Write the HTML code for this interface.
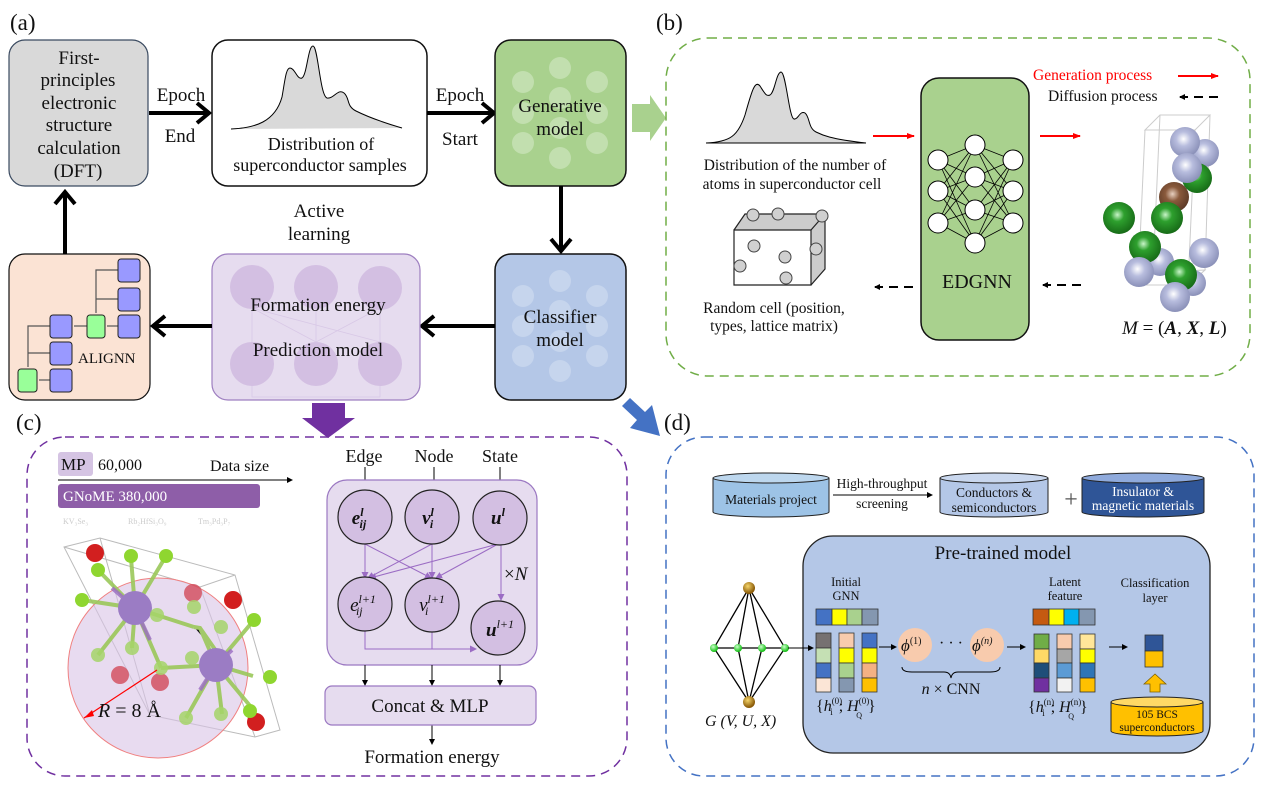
<!DOCTYPE html>
<html><head><meta charset="utf-8"><style>
html,body{margin:0;padding:0;background:#fff}
svg{display:block}
text{font-family:"Liberation Serif","DejaVu Serif",serif;fill:#111}
</style></head><body>
<svg width="1274" height="786" viewBox="0 0 1274 786" xmlns="http://www.w3.org/2000/svg">
<defs>
<marker id="ahs" markerWidth="6" markerHeight="6" refX="5" refY="3" orient="auto" markerUnits="userSpaceOnUse"><path d="M0,0 L6,3 L0,6 z" fill="#000"/></marker>
<marker id="ahr" markerWidth="8" markerHeight="8" refX="7" refY="4" orient="auto" markerUnits="userSpaceOnUse"><path d="M0,1 L8,4 L0,7 z" fill="#f00"/></marker>
<marker id="ahp" markerWidth="7" markerHeight="7" refX="6" refY="3.5" orient="auto" markerUnits="userSpaceOnUse"><path d="M0,0 L7,3.5 L0,7 z" fill="#9b6cc4"/></marker>
<radialGradient id="gs" cx="0.45" cy="0.4" r="0.6"><stop offset="0" stop-color="#fff"/><stop offset="0.4" stop-color="#b8bdde"/><stop offset="1" stop-color="#8a90b8"/></radialGradient>
<radialGradient id="gg" cx="0.45" cy="0.4" r="0.6"><stop offset="0" stop-color="#c8f5c8"/><stop offset="0.35" stop-color="#2ea02e"/><stop offset="1" stop-color="#176b17"/></radialGradient>
<radialGradient id="gb" cx="0.45" cy="0.4" r="0.6"><stop offset="0" stop-color="#e8d0c0"/><stop offset="0.4" stop-color="#8a5a3c"/><stop offset="1" stop-color="#5c3a26"/></radialGradient>
<radialGradient id="gau" cx="0.4" cy="0.35" r="0.6"><stop offset="0" stop-color="#f5d56a"/><stop offset="1" stop-color="#8a5a08"/></radialGradient>
<radialGradient id="gn" cx="0.4" cy="0.35" r="0.6"><stop offset="0" stop-color="#c9ffc9"/><stop offset="1" stop-color="#17c017"/></radialGradient>
</defs>

<!-- ===== Panel (a) ===== -->
<text x="10" y="30" font-size="23">(a)</text>
<rect x="9" y="40" width="139" height="146" rx="16" fill="#d9d9d9" stroke="#3a4a60" stroke-width="1.2"/>
<g font-size="19" text-anchor="middle">
<text x="79" y="64">First-</text><text x="78" y="86">principles</text><text x="79" y="109">electronic</text>
<text x="79" y="131">structure</text><text x="79" y="154">calculation</text><text x="78" y="177">(DFT)</text>
</g>
<line x1="149" y1="113" x2="207" y2="113" stroke="#000" stroke-width="4"/>
<path d="M197,103 L209,113 L197,123" fill="none" stroke="#000" stroke-width="4"/>
<text x="181" y="101" font-size="19" text-anchor="middle">Epoch</text>
<text x="180" y="142" font-size="19" text-anchor="middle">End</text>

<rect x="212" y="40" width="215" height="146" rx="16" fill="#fff" stroke="#111" stroke-width="1.5"/>
<path d="M231,129 C255,128 275,122 282,97 C285,80 286,68 290,68 C295,68 297,80 302,78 C307,75 308,46 313,46 C318,46 320,96 327,98 C334,99 338,88 344,93 C350,98 346,106 356,111 C370,118 385,123 402,128 Z" fill="#d9d9d9" stroke="none"/>
<path d="M231,129 C255,128 275,122 282,97 C285,80 286,68 290,68 C295,68 297,80 302,78 C307,75 308,46 313,46 C318,46 320,96 327,98 C334,99 338,88 344,93 C350,98 346,106 356,111 C370,118 385,123 402,128" fill="none" stroke="#000" stroke-width="1"/>
<g font-size="18" text-anchor="middle"><text x="321" y="150">Distribution of</text><text x="320" y="171">superconductor samples</text></g>

<line x1="427" y1="113" x2="492" y2="113" stroke="#000" stroke-width="4"/>
<path d="M482,103 L494,113 L482,123" fill="none" stroke="#000" stroke-width="4"/>
<text x="460" y="101" font-size="19" text-anchor="middle">Epoch</text>
<text x="460" y="145" font-size="19" text-anchor="middle">Start</text>

<rect x="495" y="40" width="131" height="146" rx="16" fill="#a9d18e" stroke="#111" stroke-width="1.5"/>
<g fill="#c5e1b3" opacity="0.9">
<circle cx="523" cy="82" r="11"/><circle cx="523" cy="113" r="11"/><circle cx="523" cy="143" r="11"/>
<circle cx="560" cy="68" r="11"/><circle cx="560" cy="98" r="11"/><circle cx="560" cy="128" r="11"/><circle cx="560" cy="158" r="11"/>
<circle cx="597" cy="82" r="11"/><circle cx="597" cy="113" r="11"/><circle cx="597" cy="143" r="11"/></g>
<g font-size="19" text-anchor="middle"><text x="560" y="112">Generative</text><text x="560" y="135">model</text></g>

<line x1="561" y1="186" x2="561" y2="248" stroke="#000" stroke-width="4"/>
<path d="M551,239 L561,251 L571,239" fill="none" stroke="#000" stroke-width="4"/>

<rect x="495" y="254" width="131" height="146" rx="16" fill="#b4c7e7" stroke="#111" stroke-width="1.5"/>
<g fill="#c9d7ee" opacity="0.9">
<circle cx="523" cy="296" r="11"/><circle cx="523" cy="326" r="11"/><circle cx="523" cy="356" r="11"/>
<circle cx="560" cy="281" r="11"/><circle cx="560" cy="311" r="11"/><circle cx="560" cy="341" r="11"/><circle cx="560" cy="371" r="11"/>
<circle cx="597" cy="296" r="11"/><circle cx="597" cy="326" r="11"/><circle cx="597" cy="356" r="11"/></g>
<g font-size="19" text-anchor="middle"><text x="560" y="323">Classifier</text><text x="560" y="346">model</text></g>

<line x1="495" y1="326" x2="424" y2="326" stroke="#000" stroke-width="4"/>
<path d="M434,316 L422,326 L434,336" fill="none" stroke="#000" stroke-width="4"/>

<rect x="212" y="254" width="208" height="146" rx="16" fill="#e6dcef" stroke="#9e7fc0" stroke-width="1.2"/>
<g fill="#d3bfe2"><ellipse cx="252" cy="287" rx="22" ry="22"/><ellipse cx="316" cy="287" rx="22" ry="22"/><ellipse cx="380" cy="288" rx="22" ry="22"/>
<ellipse cx="252" cy="364" rx="22" ry="22"/><ellipse cx="316" cy="364" rx="22" ry="22"/><ellipse cx="380" cy="364" rx="22" ry="22"/></g>
<g stroke="#d8c8e6" stroke-width="0.8" fill="none"><path d="M252,308 L316,342 M380,308 L316,342 M252,308 L380,342 M252,308 V342 M316,308 V342 M380,308 V342 M252,386 V397 H380 V386"/></g>
<g font-size="19" text-anchor="middle"><text x="318" y="311">Formation energy</text><text x="318" y="356">Prediction model</text></g>

<rect x="9" y="254" width="141" height="146" rx="16" fill="#fbe3d4" stroke="#111" stroke-width="1.2"/>
<line x1="212" y1="326" x2="155" y2="326" stroke="#000" stroke-width="4"/>
<path d="M165,316 L153,326 L165,336" fill="none" stroke="#000" stroke-width="4"/>
<g stroke="#555" stroke-width="1.2" fill="none">
<path d="M118,270 H96 V313"/><path d="M118,299 H96"/><path d="M118,326 H107"/><path d="M87,326 H74"/>
<path d="M50,326 H28 V367"/><path d="M50,353 H28"/><path d="M50,380 H39"/>
</g>
<g fill="#9999ff" stroke="#222" stroke-width="1">
<rect x="118" y="259" width="22" height="23" rx="3"/><rect x="118" y="288" width="22" height="23" rx="3"/><rect x="118" y="315" width="22" height="23" rx="3"/>
<rect x="50" y="315" width="22" height="23" rx="3"/><rect x="50" y="342" width="22" height="23" rx="3"/><rect x="50" y="369" width="22" height="23" rx="3"/>
</g>
<g fill="#99ff99" stroke="#222" stroke-width="1"><rect x="87" y="315" width="18" height="23" rx="3"/><rect x="18" y="369" width="19" height="23" rx="3"/></g>
<text x="78" y="363" font-size="15">ALIGNN</text>

<line x1="65" y1="254" x2="65" y2="195" stroke="#000" stroke-width="4"/>
<path d="M55,204 L65,192 L75,204" fill="none" stroke="#000" stroke-width="4"/>
<g font-size="19" text-anchor="middle"><text x="319" y="217">Active</text><text x="319" y="240">learning</text></g>

<!-- ===== Panel (b) ===== -->
<text x="656" y="30" font-size="23">(b)</text>
<path d="M632,104 H650 V95 L666,118 L650,141 V132 H632 Z" fill="#a9d18e"/>
<rect x="666" y="38" width="584" height="338" rx="42" fill="none" stroke="#70ad47" stroke-width="1.5" stroke-dasharray="9,6"/>
<path d="M706,143 C730,142 738,136 745,115 C752,90 755,80 760,86 C764,92 766,97 770,95 C775,92 776,73 781,72 C786,72 789,118 794,119 C798,120 800,110 805,113 C810,117 808,128 816,132 C822,135 830,139 866,143 Z" fill="#d9d9d9" stroke="#000" stroke-width="1"/>
<g font-size="15.5" text-anchor="middle"><text x="795" y="170">Distribution of the number of</text><text x="792" y="189">atoms in superconductor cell</text></g>
<line x1="873" y1="136" x2="914" y2="136" stroke="#f00" stroke-width="2" marker-end="url(#ahr)"/>
<line x1="1040" y1="136" x2="1080" y2="136" stroke="#f00" stroke-width="2" marker-end="url(#ahr)"/>
<text x="1033" y="80" font-size="15.5" style="fill:#f00">Generation process</text>
<line x1="1178" y1="76" x2="1218" y2="76" stroke="#f00" stroke-width="2" marker-end="url(#ahr)"/>
<text x="1048" y="101" font-size="15.5">Diffusion process</text>
<line x1="1218" y1="97" x2="1180" y2="97" stroke="#000" stroke-width="2" stroke-dasharray="9,6" marker-end="url(#ahs)"/>

<rect x="921" y="78" width="108" height="262" rx="18" fill="#a9d18e" stroke="#111" stroke-width="1.5"/>
<g stroke="#000" stroke-width="0.8">
<path d="M938,160 L975,145 M938,160 L975,177 M938,160 L975,210 M938,160 L975,243 M938,191 L975,145 M938,191 L975,177 M938,191 L975,210 M938,191 L975,243 M938,223 L975,145 M938,223 L975,177 M938,223 L975,210 M938,223 L975,243"/>
<path d="M1013,160 L975,145 M1013,160 L975,177 M1013,160 L975,210 M1013,160 L975,243 M1013,191 L975,145 M1013,191 L975,177 M1013,191 L975,210 M1013,191 L975,243 M1013,223 L975,145 M1013,223 L975,177 M1013,223 L975,210 M1013,223 L975,243"/>
</g>
<g fill="#fff" stroke="#000" stroke-width="1">
<circle cx="938" cy="160" r="10"/><circle cx="938" cy="191" r="10"/><circle cx="938" cy="223" r="10"/>
<circle cx="975" cy="145" r="10"/><circle cx="975" cy="177" r="10"/><circle cx="975" cy="210" r="10"/><circle cx="975" cy="243" r="10"/>
<circle cx="1013" cy="160" r="10"/><circle cx="1013" cy="191" r="10"/><circle cx="1013" cy="223" r="10"/></g>
<text x="977" y="288" font-size="20" text-anchor="middle">EDGNN</text>
<line x1="913" y1="287" x2="875" y2="287" stroke="#000" stroke-width="2" stroke-dasharray="9,6" marker-end="url(#ahs)"/>
<line x1="1081" y1="285" x2="1043" y2="285" stroke="#000" stroke-width="2" stroke-dasharray="9,6" marker-end="url(#ahs)"/>

<path d="M734,230 L745,214 L825,214 L825,269 L811,285 Z" fill="#ccc"/>
<path d="M734,230 L811,230 L811,285 L734,285 Z" fill="#fff" stroke="#222" stroke-width="1.2"/>
<path d="M734,230 L745,214 L825,214 L811,230 M825,214 L825,269 L811,285" fill="none" stroke="#222" stroke-width="1.2"/>
<g fill="#d0d0d0" stroke="#444" stroke-width="1">
<circle cx="753" cy="215" r="6"/><circle cx="778" cy="214" r="6"/><circle cx="822" cy="216" r="6"/><circle cx="754" cy="246" r="6"/>
<circle cx="785" cy="257" r="6"/><circle cx="740" cy="266" r="6"/><circle cx="786" cy="278" r="6"/><circle cx="816" cy="249" r="6"/></g>
<g font-size="15.5" text-anchor="middle"><text x="774" y="313">Random cell (position,</text><text x="774" y="331">types,  lattice matrix)</text></g>

<g fill="none" stroke="#ccc" stroke-width="1">
<path d="M1145,130 L1160,115 L1210,115 L1195,130 Z M1145,130 L1138,285 M1195,130 L1188,285 M1210,115 L1205,270 M1160,115 L1153,272 M1138,285 L1188,285 L1205,270 L1153,272 Z"/></g>
<circle cx="1205" cy="153" r="14" fill="url(#gs)"/>
<circle cx="1185" cy="142" r="15" fill="url(#gs)"/>
<circle cx="1197" cy="178" r="15" fill="url(#gg)"/>
<circle cx="1187" cy="168" r="15" fill="url(#gs)"/>
<circle cx="1174" cy="197" r="15" fill="url(#gb)"/>
<circle cx="1119" cy="218" r="16" fill="url(#gg)"/>
<circle cx="1167" cy="218" r="16" fill="url(#gg)"/>
<circle cx="1160" cy="262" r="14" fill="url(#gs)"/>
<circle cx="1145" cy="247" r="16" fill="url(#gg)"/>
<circle cx="1139" cy="272" r="15" fill="url(#gs)"/>
<circle cx="1204" cy="253" r="15" fill="url(#gs)"/>
<circle cx="1193" cy="283" r="13" fill="url(#gs)"/>
<circle cx="1181" cy="275" r="16" fill="url(#gg)"/>
<circle cx="1175" cy="297" r="15" fill="url(#gs)"/>
<text x="1122" y="334" font-size="19"><tspan font-style="italic">M</tspan> = (<tspan font-weight="bold" font-style="italic">A</tspan>, <tspan font-weight="bold" font-style="italic">X</tspan>, <tspan font-weight="bold" font-style="italic">L</tspan>)</text>

<!-- ===== Panel (c) ===== -->
<text x="16" y="430" font-size="23">(c)</text>
<path d="M312,403 H345 V418 H355 L328,438 L302,418 H312 Z" fill="#7030a0"/>
<rect x="27" y="437" width="600" height="339" rx="38" fill="none" stroke="#7030a0" stroke-width="1.5" stroke-dasharray="9,6"/>
<rect x="58" y="452" width="35" height="24" rx="3" fill="#d5c4e3"/>
<text x="61" y="470" font-size="17">MP</text>
<text x="98" y="470" font-size="16">60,000</text>
<text x="210" y="471" font-size="16">Data size</text>
<line x1="58" y1="480" x2="292" y2="480" stroke="#000" stroke-width="1" marker-end="url(#ahs)"/>
<rect x="58" y="484" width="202" height="24" rx="3" fill="#8e5ea8"/>
<text x="63" y="501" font-size="15" style="fill:#fff">GNoME  380,000</text>
<g font-size="8" font-family="Liberation Sans"><text x="63" y="524" style="fill:#ccc">KV₃Se₃</text><text x="128" y="524" style="fill:#ccc">Rb₂HfSi₃O₉</text><text x="198" y="524" style="fill:#ccc">Tm₃Pd₃P₇</text></g>

<g fill="none" stroke="#bbb" stroke-width="1"><path d="M64,547 L100,538 L235,575 L280,730 L255,737 L150,715 L64,547 Z M100,538 L150,715 M235,575 L200,587 L64,547 M200,587 L255,737"/></g>
<circle cx="158" cy="668" r="90" fill="#d9c3e6" fill-opacity="0.6" stroke="#f08080" stroke-width="1"/>
<g stroke="#9bc85a" stroke-width="4" opacity="0.9">
<path d="M135,608 L82,600 M135,608 L98,570 M135,608 L131,558 M135,608 L166,556 M135,608 L98,655 M135,608 L132,648 M135,608 L194,627 M135,608 L161,668 M161,668 L216,665 M216,665 L254,620 M216,665 L253,676 M216,665 L222,714 M216,665 L186,718 M216,665 L251,707 M216,665 L200,628 M194,627 L200,628 L221,658"/></g>
<g stroke="#9b6cc4" stroke-width="4" opacity="0.8"><path d="M135,608 L112,588 M135,608 L150,640 M216,665 L232,650 M216,665 L200,690"/></g>
<circle cx="135" cy="608" r="17" fill="#9b7cc4"/><circle cx="216" cy="665" r="17" fill="#9b7cc4"/>
<g fill="#d21f1f"><circle cx="95" cy="553" r="9"/><circle cx="233" cy="600" r="9"/><circle cx="256" cy="722" r="9"/></g>
<g fill="#d24a5a" opacity="0.8"><circle cx="193" cy="593" r="9"/><circle cx="120" cy="675" r="9"/><circle cx="160" cy="682" r="9"/></g>
<g fill="#8fd630"><circle cx="82" cy="600" r="7"/><circle cx="98" cy="570" r="7"/><circle cx="131" cy="556" r="7"/><circle cx="166" cy="556" r="7"/><circle cx="254" cy="620" r="7"/><circle cx="270" cy="677" r="7"/><circle cx="250" cy="711" r="7"/></g>
<g fill="#a6d56a" opacity="0.85"><circle cx="98" cy="655" r="7"/><circle cx="132" cy="648" r="7"/><circle cx="161" cy="668" r="7"/><circle cx="194" cy="607" r="7"/><circle cx="157" cy="615" r="7"/><circle cx="221" cy="627" r="7"/><circle cx="192" cy="658" r="7"/><circle cx="186" cy="718" r="7"/><circle cx="221" cy="714" r="7"/></g>
<line x1="157" y1="670" x2="84" y2="718" stroke="#f00" stroke-width="1.2"/>
<path d="M84,718 L92,710 L94,716 Z" fill="#f00"/>
<text x="98" y="717" font-size="20"><tspan font-style="italic">R</tspan> = 8 Å</text>

<g font-size="18" text-anchor="middle"><text x="364" y="462">Edge</text><text x="434" y="462">Node</text><text x="500" y="462">State</text></g>
<g stroke="#000" stroke-width="1"><line x1="365" y1="467" x2="365" y2="485" marker-end="url(#ahs)"/><line x1="434" y1="467" x2="434" y2="485" marker-end="url(#ahs)"/><line x1="500" y1="467" x2="500" y2="485" marker-end="url(#ahs)"/></g>
<rect x="327" y="480" width="210" height="185" rx="20" fill="#e6dcef" stroke="#9b78c2" stroke-width="1.2"/>
<g stroke="#9b6cc4" stroke-width="1" fill="none">
<line x1="365" y1="544" x2="365" y2="578" marker-end="url(#ahp)"/>
<line x1="365" y1="544" x2="431" y2="578" marker-end="url(#ahp)"/>
<line x1="432" y1="544" x2="432" y2="578" marker-end="url(#ahp)"/>
<line x1="432" y1="544" x2="368" y2="578" marker-end="url(#ahp)"/>
<line x1="498" y1="544" x2="370" y2="578" marker-end="url(#ahp)"/>
<line x1="498" y1="544" x2="436" y2="578" marker-end="url(#ahp)"/>
<line x1="501" y1="544" x2="501" y2="600" marker-end="url(#ahp)"/>
<path d="M365,631 V649 H476" marker-end="url(#ahp)"/><path d="M432,631 V649"/>
</g>
<g fill="#d3bfe2" stroke="#222" stroke-width="1.2">
<circle cx="365" cy="517" r="27"/><circle cx="432" cy="517" r="27"/><circle cx="500" cy="518" r="27"/>
<circle cx="365" cy="604" r="27"/><circle cx="432" cy="605" r="27"/><circle cx="498" cy="628" r="27"/></g>
<g font-size="19" font-style="italic" text-anchor="middle">
<text x="359" y="524" font-weight="bold">e<tspan font-size="12" dy="-8">l</tspan><tspan font-size="12" dx="-4" dy="12">ij</tspan></text>
<text x="428" y="524" font-weight="bold">v<tspan font-size="12" dy="-8">l</tspan><tspan font-size="12" dx="-4" dy="12">i</tspan></text>
<text x="498" y="524" font-weight="bold">u<tspan font-size="12" dy="-8">l</tspan></text>
<text x="363" y="611">e<tspan font-size="12" dy="-8">l+1</tspan><tspan font-size="12" dx="-20" dy="12">ij</tspan></text>
<text x="432" y="611">v<tspan font-size="12" dy="-8">l+1</tspan><tspan font-size="12" dx="-20" dy="12">i</tspan></text>
<text x="500" y="636" font-weight="bold">u<tspan font-size="12" font-weight="normal" dy="-8">l+1</tspan></text>
</g>
<text x="504" y="580" font-size="19">×<tspan font-style="italic">N</tspan></text>
<g stroke="#000" stroke-width="1"><line x1="365" y1="665" x2="365" y2="685" marker-end="url(#ahs)"/><line x1="432" y1="665" x2="432" y2="685" marker-end="url(#ahs)"/><line x1="500" y1="665" x2="500" y2="685" marker-end="url(#ahs)"/><line x1="432" y1="725" x2="432" y2="744" marker-end="url(#ahs)"/></g>
<rect x="325" y="686" width="211" height="39" rx="7" fill="#e6dcef" stroke="#9b78c2" stroke-width="1.2"/>
<text x="430" y="712" font-size="19" text-anchor="middle">Concat &amp; MLP</text>
<text x="432" y="763" font-size="19" text-anchor="middle">Formation energy</text>

<!-- ===== Panel (d) ===== -->
<text x="664" y="430" font-size="23">(d)</text>
<path d="M630,398 L645,412 L652,405 L660,436 L630,428 L637,420 L622,406 Z" fill="#4472c4"/>
<rect x="666" y="437" width="588" height="339" rx="38" fill="none" stroke="#4472c4" stroke-width="1.5" stroke-dasharray="9,6"/>

<g stroke="#222" stroke-width="1">
<path d="M713,478 V512 A58,5 0 0 0 829,512 V478" fill="#9dc3e6"/><ellipse cx="771" cy="478" rx="58" ry="5" fill="#bdd7ee"/>
<path d="M940,478 V512 A54,5 0 0 0 1048,512 V478" fill="#b4c7e7"/><ellipse cx="994" cy="478" rx="54" ry="5" fill="#c9d7ee"/>
<path d="M1082,478 V512 A61,5 0 0 0 1204,512 V478" fill="#2f5597"/><ellipse cx="1143" cy="478" rx="61" ry="5" fill="#8faadc"/>
</g>
<g font-size="13.5" text-anchor="middle">
<text x="771" y="504">Materials project</text>
<text x="994" y="497">Conductors &amp;</text><text x="994" y="512">semiconductors</text>
<text x="1143" y="496" style="fill:#fff">Insulator &amp;</text><text x="1143" y="510" style="fill:#fff">magnetic materials</text>
<text x="882" y="488">High-throughput</text><text x="882" y="508">screening</text>
</g>
<line x1="833" y1="495" x2="932" y2="495" stroke="#000" stroke-width="1" marker-end="url(#ahs)"/>
<text x="1071" y="507" font-size="24" text-anchor="middle" style="fill:#555">+</text>

<rect x="803" y="536" width="407" height="217" rx="30" fill="#b4c7e7" stroke="#222" stroke-width="1.3"/>
<text x="1003" y="559" font-size="19" text-anchor="middle">Pre-trained model</text>

<g stroke="#000" stroke-width="1.3" fill="none">
<path d="M749,588 L714,648 L749,702 M749,588 L738,648 L749,702 M749,588 L762,648 L749,702 M749,588 L785,648 L749,702 M714,648 L785,648"/></g>
<circle cx="749" cy="588" r="6" fill="url(#gau)"/><circle cx="749" cy="702" r="6" fill="url(#gau)"/>
<g fill="url(#gn)"><circle cx="714" cy="648" r="4"/><circle cx="738" cy="648" r="4"/><circle cx="762" cy="648" r="4"/><circle cx="785" cy="648" r="4"/></g>
<text x="705" y="726" font-size="16" font-style="italic">G (V, U, X)</text>
<line x1="788" y1="648" x2="813" y2="648" stroke="#000" stroke-width="1" marker-end="url(#ahs)"/>

<g font-size="12.5" text-anchor="middle"><text x="846" y="586">Initial</text><text x="846" y="600">GNN</text>
<text x="1065" y="586">Latent</text><text x="1065" y="600">feature</text>
<text x="1155" y="587">Classification</text><text x="1155" y="602">layer</text></g>

<g stroke="#333" stroke-width="0.8">
<rect x="816" y="609" width="16" height="16" fill="#4472c4"/><rect x="832" y="609" width="15" height="16" fill="#ffff00"/><rect x="847" y="609" width="15" height="16" fill="#a9d18e"/><rect x="862" y="609" width="16" height="16" fill="#8497b0"/>
<rect x="816" y="633" width="15" height="15" fill="#767171"/><rect x="816" y="648" width="15" height="15" fill="#c5e0b4"/><rect x="816" y="663" width="15" height="15" fill="#4472c4"/><rect x="816" y="678" width="15" height="14" fill="#fbe5d6"/>
<rect x="839" y="633" width="15" height="15" fill="#f8cbad"/><rect x="839" y="648" width="15" height="15" fill="#ffff00"/><rect x="839" y="663" width="15" height="15" fill="#a9d18e"/><rect x="839" y="678" width="15" height="14" fill="#8497b0"/>
<rect x="862" y="633" width="15" height="15" fill="#4472c4"/><rect x="862" y="648" width="15" height="15" fill="#ffff00"/><rect x="862" y="663" width="15" height="15" fill="#f4b183"/><rect x="862" y="678" width="15" height="14" fill="#ffc000"/>
<rect x="1033" y="609" width="16" height="16" fill="#c55a11"/><rect x="1049" y="609" width="15" height="16" fill="#ffff00"/><rect x="1064" y="609" width="15" height="16" fill="#00b0f0"/><rect x="1079" y="609" width="16" height="16" fill="#8497b0"/>
<rect x="1034" y="634" width="15" height="15" fill="#70ad47"/><rect x="1034" y="649" width="15" height="14" fill="#ffd966"/><rect x="1034" y="663" width="15" height="15" fill="#1f4e79"/><rect x="1034" y="678" width="15" height="14" fill="#7030a0"/>
<rect x="1057" y="634" width="15" height="15" fill="#f8cbad"/><rect x="1057" y="649" width="15" height="14" fill="#a6a6a6"/><rect x="1057" y="663" width="15" height="15" fill="#5b9bd5"/><rect x="1057" y="678" width="15" height="14" fill="#f2f2f2"/>
<rect x="1080" y="634" width="15" height="15" fill="#ffe699"/><rect x="1080" y="649" width="15" height="14" fill="#ffff00"/><rect x="1080" y="663" width="15" height="15" fill="#2e75b6"/><rect x="1080" y="678" width="15" height="14" fill="#ffc000"/>
<rect x="1145" y="635" width="18" height="16" fill="#2f5597"/><rect x="1145" y="651" width="18" height="16" fill="#ffc000"/>
</g>
<g stroke="#000" stroke-width="1">
<line x1="879" y1="647" x2="896" y2="647" marker-end="url(#ahs)"/>
<line x1="1007" y1="647" x2="1025" y2="647" marker-end="url(#ahs)"/>
<line x1="1109" y1="647" x2="1127" y2="647" marker-end="url(#ahs)"/>
</g>
<ellipse cx="915" cy="645" rx="17" ry="17" fill="#f8cbad"/><ellipse cx="987" cy="645" rx="17" ry="17" fill="#f8cbad"/>
<g font-size="17" font-style="italic"><text x="901" y="651">ϕ<tspan font-size="10" dy="-7" font-style="normal">(1)</tspan></text><text x="972" y="651">ϕ<tspan font-size="10" dy="-7">(n)</tspan></text></g>
<text x="951" y="648" font-size="16" text-anchor="middle">· · ·</text>
<path d="M902,667 Q902,672 912,672 H944 Q950,672 951,678 Q952,672 958,672 H990 Q1000,672 1000,667" fill="none" stroke="#000" stroke-width="1"/>
<text x="951" y="694" font-size="16" text-anchor="middle"><tspan font-style="italic">n</tspan> × CNN</text>
<text x="816" y="711" font-size="16">{<tspan font-style="italic">h</tspan><tspan font-size="9" dy="-7">(0)</tspan><tspan font-size="9" dx="-12" dy="11">i</tspan><tspan dy="-4" dx="6">; </tspan><tspan font-style="italic">H</tspan><tspan font-size="9" dy="-7">(0)</tspan><tspan font-size="8" dx="-13" dy="14">Q</tspan><tspan dy="-7" dx="6">}</tspan></text>
<text x="1028" y="712" font-size="16">{<tspan font-style="italic">h</tspan><tspan font-size="9" dy="-7">(n)</tspan><tspan font-size="9" dx="-12" dy="11">i</tspan><tspan dy="-4" dx="6">; </tspan><tspan font-style="italic">H</tspan><tspan font-size="9" dy="-7">(n)</tspan><tspan font-size="8" dx="-13" dy="14">Q</tspan><tspan dy="-7" dx="6">}</tspan></text>
<path d="M1150,692 V684 H1144 L1155,674 L1166,684 H1160 V692 Z" fill="#ffc000" stroke="#7f6000" stroke-width="0.8"/>
<g stroke="#222" stroke-width="1">
<path d="M1111,702 V731 A46,5 0 0 0 1203,731 V702" fill="#ffc000"/><ellipse cx="1157" cy="702" rx="46" ry="5" fill="#ffd966"/></g>
<g font-size="11.5" text-anchor="middle"><text x="1157" y="718">105 BCS</text><text x="1157" y="731">superconductors</text></g>
</svg>
</body></html>
